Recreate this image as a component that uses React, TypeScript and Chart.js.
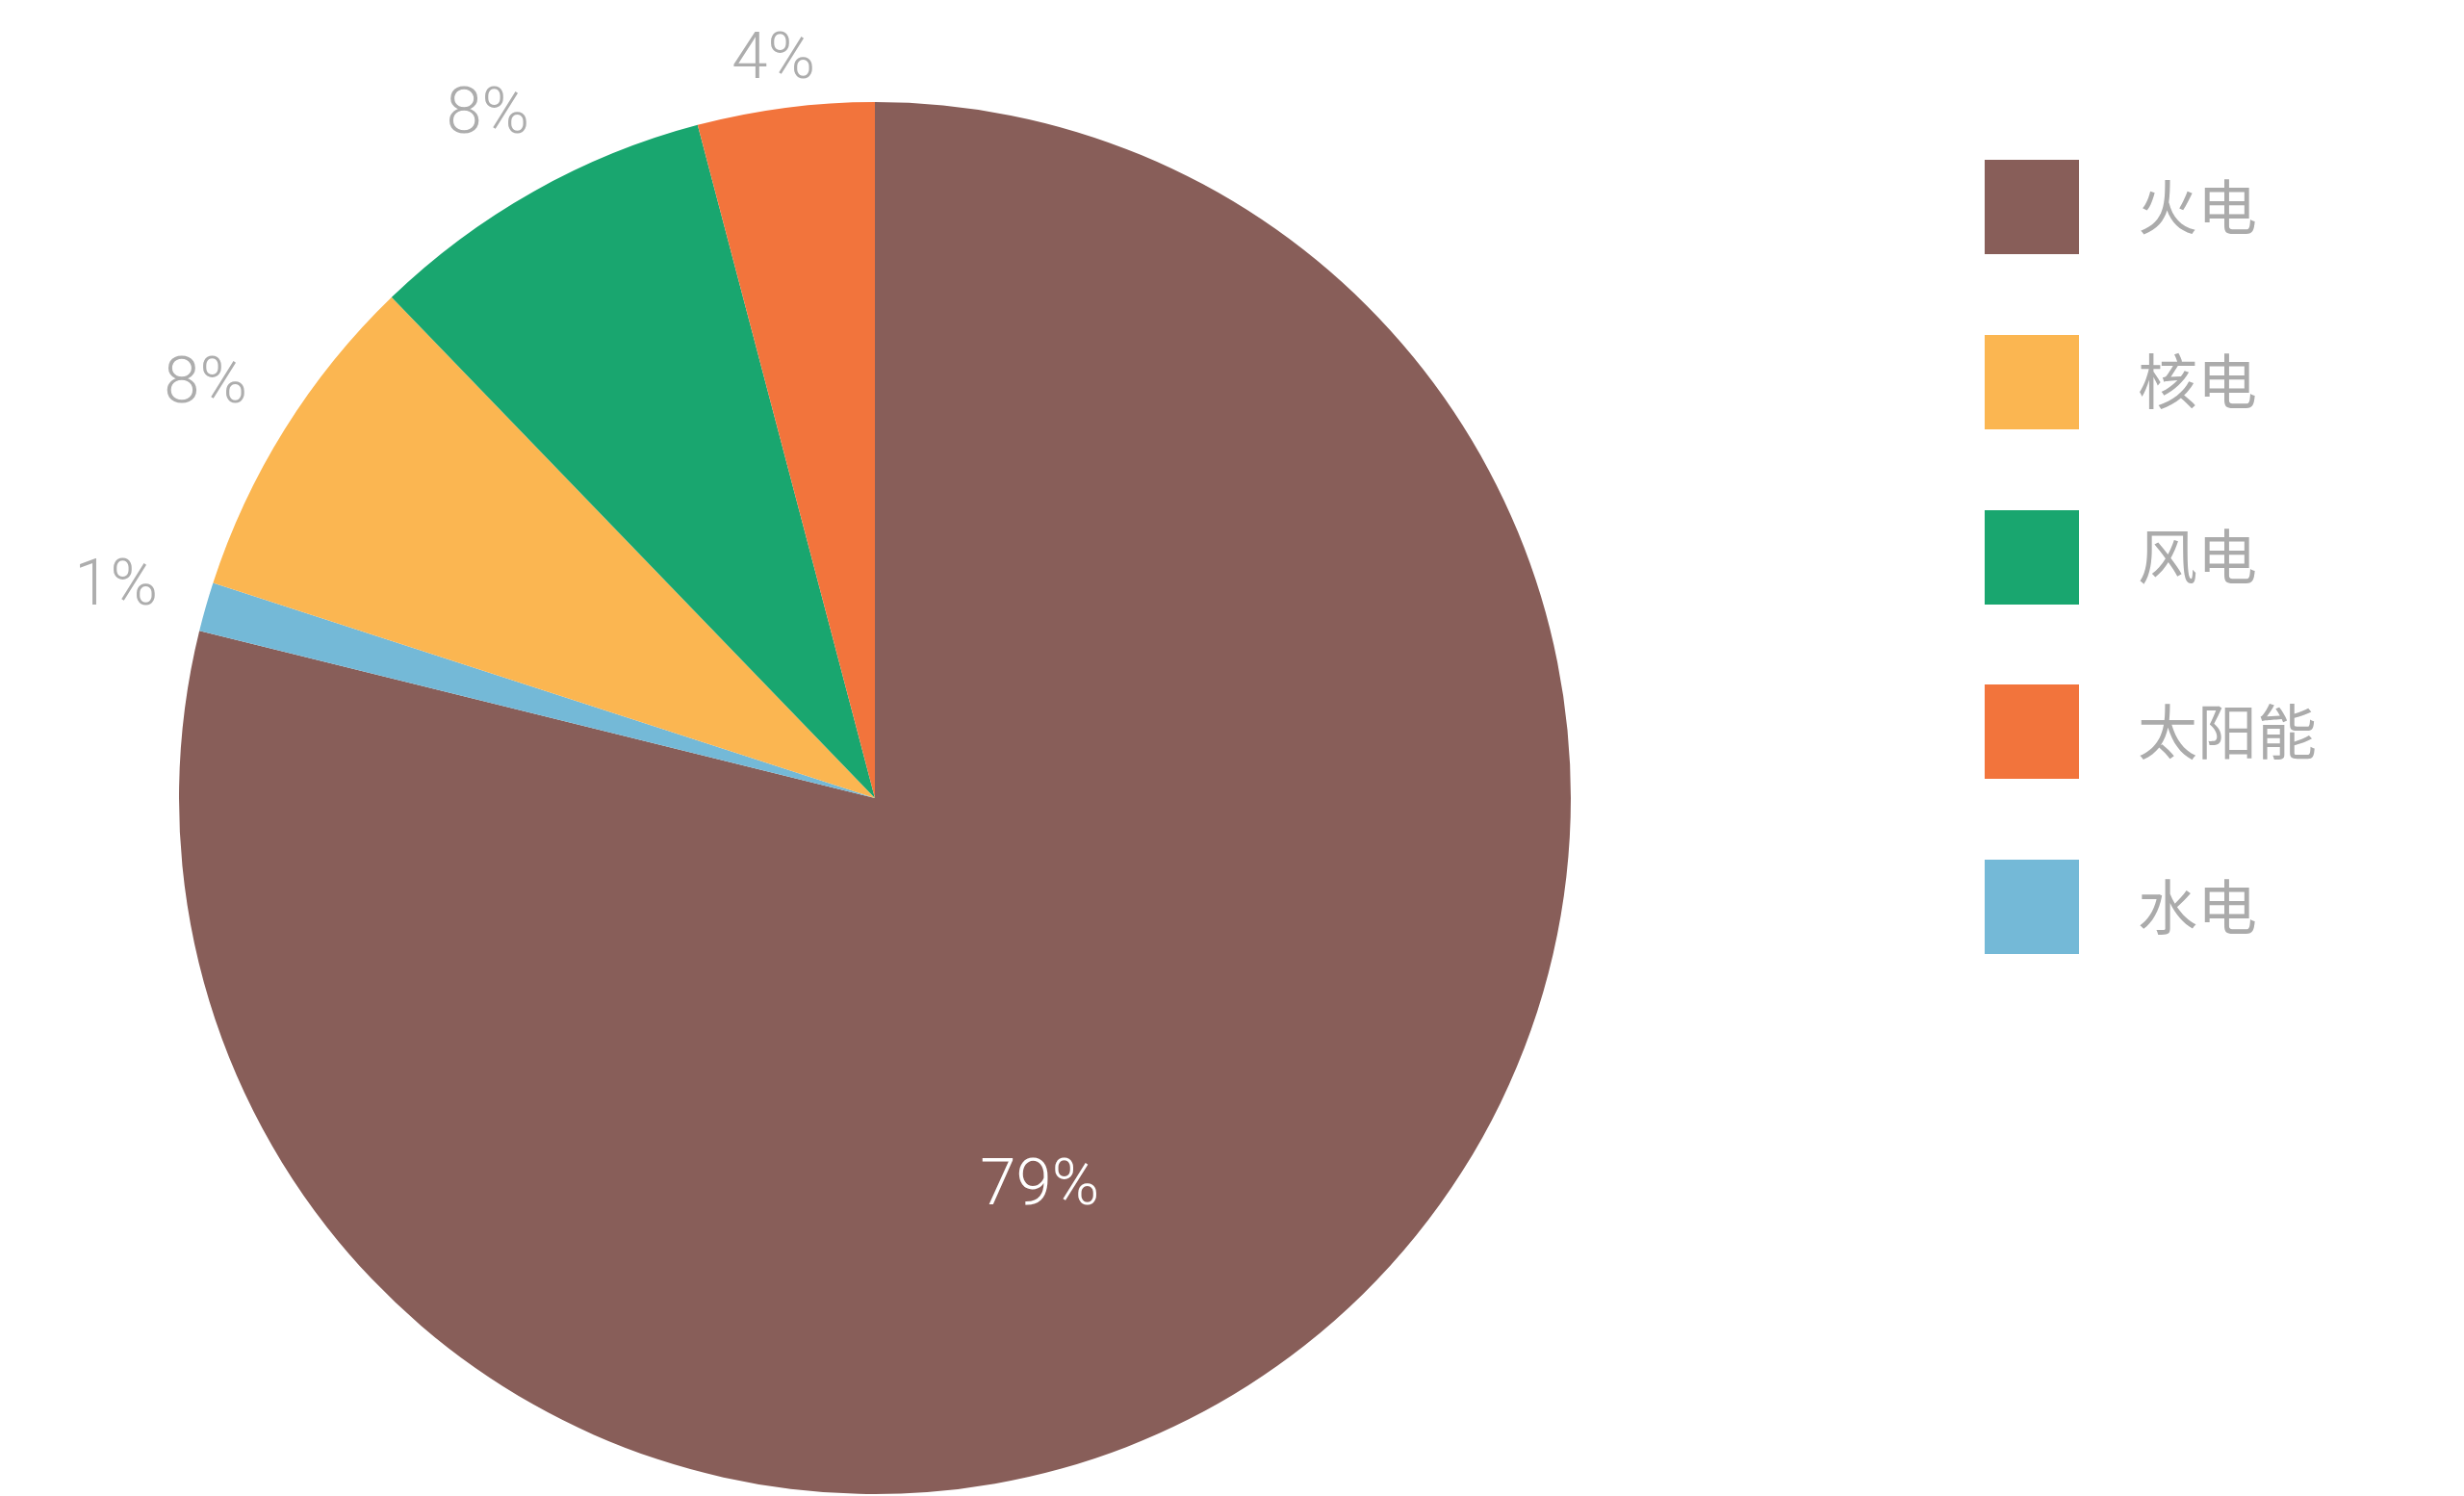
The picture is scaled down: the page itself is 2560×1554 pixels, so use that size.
import React, { useEffect, useRef } from 'react';
import { Chart, registerables } from 'chart.js';

Chart.register(...registerables);

// ---- data ----
const categories = ['火电', '水电', '核电', '风电', '太阳能'];
const shares = [78.86, 1.14, 7.78, 8.12, 4.1];
const sliceColors = ['#885E59', '#74B9D7', '#FBB651', '#19A66F', '#F2743C'];
const legendOrder = ['火电', '核电', '风电', '太阳能', '水电'];

// ---- layout / style constants ----
const SHIFT_X = 130;
const CANVAS_W = 2690;
const CANVAS_H = 1600;
const PIE_RADIUS = 723;
const LEGEND_FONT = 62;
const SWATCH = 98;
const SWATCH_SLOT = 128;
const OUTER_LABEL_GAP = 97;
const INNER_LABEL_FRACTION = 0.6;
const INNER_LABEL_SHIFT = (14.8 * Math.PI) / 180;
const LABEL_MIN_Y = 57;
const LABEL_FONT = 67;
const CAP_HALF = LABEL_FONT * 0.711 / 2;

function makeSwatch(color: string): HTMLCanvasElement {
  const c = document.createElement('canvas');
  c.width = SWATCH_SLOT;
  c.height = SWATCH;
  const g = c.getContext('2d')!;
  g.fillStyle = color;
  g.fillRect(0, 0, SWATCH, SWATCH);
  return c;
}

const pctLabelPlugin = {
  id: 'pctLabels',
  afterDatasetsDraw(chart: any) {
    const meta = chart.getDatasetMeta(0);
    const values = chart.data.datasets[0].data as number[];
    const ctx = chart.ctx as CanvasRenderingContext2D;
    ctx.save();
    ctx.font = `300 ${LABEL_FONT}px Roboto`;
    ctx.textAlign = 'center';
    ctx.textBaseline = 'alphabetic';
    meta.data.forEach((arc: any, i: number) => {
      const { x, y, startAngle, endAngle, outerRadius } = arc.getProps(
        ['x', 'y', 'startAngle', 'endAngle', 'outerRadius'],
        true
      );
      const v = values[i];
      const text = Math.round(v) + '%';
      const mid = (startAngle + endAngle) / 2;
      let px: number;
      let py: number;
      if (v > 50) {
        const a = mid + INNER_LABEL_SHIFT;
        const d = outerRadius * INNER_LABEL_FRACTION;
        px = x + Math.cos(a) * d;
        py = y + Math.sin(a) * d;
        ctx.fillStyle = '#FFFFFF';
      } else {
        const d = outerRadius + OUTER_LABEL_GAP;
        px = x + Math.cos(mid) * d;
        py = Math.max(y + Math.sin(mid) * d, LABEL_MIN_Y);
        ctx.fillStyle = '#ADADAD';
      }
      ctx.fillText(text, px, py + CAP_HALF);
    });
    ctx.restore();
  },
};

export default function App() {
  const ref = useRef<HTMLCanvasElement | null>(null);

  useEffect(() => {
    if (!ref.current) return;
    const swatches = sliceColors.map(makeSwatch);
    const chart = new Chart(ref.current, {
      type: 'pie',
      data: {
        labels: categories,
        datasets: [
          {
            data: shares,
            backgroundColor: sliceColors,
            borderWidth: 0,
            clip: false as any,
          } as any,
        ],
      },
      options: {
        responsive: false,
        animation: false,
        devicePixelRatio: 1,
        events: [],
        radius: PIE_RADIUS,
        layout: {
          padding: { left: 5.75, right: 143, top: 64.25, bottom: 6.25 },
        },
        plugins: {
          tooltip: { enabled: false },
          legend: {
            position: 'right',
            align: 'start',
            labels: {
              usePointStyle: true,
              pointStyleWidth: SWATCH_SLOT,
              padding: 119.75,
              color: '#ABABAB',
              font: { family: '"Noto Sans CJK SC"', size: LEGEND_FONT, weight: 'normal' as any },
              generateLabels: (c: any) =>
                c.data.labels.map((label: string, i: number) => ({
                  text: label,
                  fillStyle: sliceColors[i],
                  strokeStyle: sliceColors[i],
                  lineWidth: 0,
                  pointStyle: swatches[i],
                  fontColor: '#ABABAB',
                  hidden: !c.getDataVisibility(i),
                  index: i,
                })),
              sort: (a: any, b: any) => legendOrder.indexOf(a.text) - legendOrder.indexOf(b.text),
            },
          },
        },
      } as any,
      plugins: [pctLabelPlugin],
    });
    return () => chart.destroy();
  }, []);

  return (
    <div
      style={{
        position: 'fixed',
        left: 0,
        top: 0,
        width: '2560px',
        height: '1554px',
        overflow: 'hidden',
        background: '#FFFFFF',
      }}
    >
      <canvas
        ref={ref}
        width={CANVAS_W}
        height={CANVAS_H}
        style={{
          position: 'absolute',
          left: -SHIFT_X + 'px',
          top: 0,
          width: CANVAS_W + 'px',
          height: CANVAS_H + 'px',
        }}
      />
    </div>
  );
}
